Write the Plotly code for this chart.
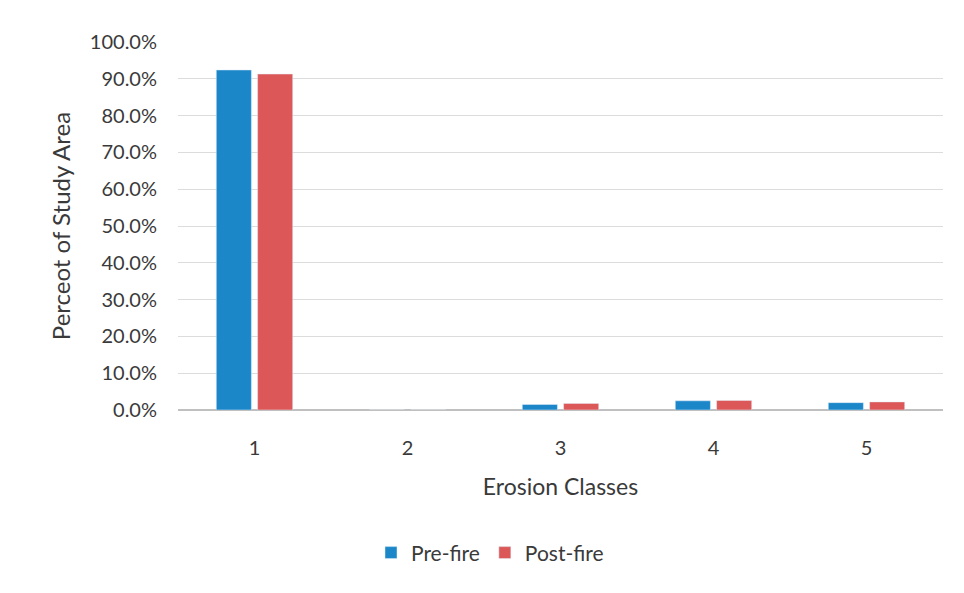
import plotly.graph_objects as go

categories = ["1", "2", "3", "4", "5"]
pre_fire = [0.924, 0.0, 0.015, 0.025, 0.020]
post_fire = [0.913, 0.0, 0.018, 0.026, 0.022]
y_ticks = [0, 0.1, 0.2, 0.3, 0.4, 0.5, 0.6, 0.7, 0.8, 0.9, 1.0]

FONT = "Lato"
TXT = "#3a3a3a"

fig = go.Figure()
fig.add_trace(go.Bar(name="Pre-fire", x=categories, y=pre_fire, marker_color="#1b87c9"))
fig.add_trace(go.Bar(name="Post-fire", x=categories, y=post_fire, marker_color="#dc5858"))

fig.update_layout(
    width=964, height=593,
    margin=dict(l=170, r=29, t=34, b=191),
    paper_bgcolor="white", plot_bgcolor="white",
    barmode="group", bargap=0.46, bargroupgap=0.15,
    font=dict(family=FONT, color=TXT, size=20),
    legend=dict(orientation="h", xref="container", yref="container",
                x=0.5, xanchor="center", y=0.081, yanchor="middle",
                itemwidth=30,
                font=dict(size=21, color=TXT)),
    xaxis=dict(type="category", showgrid=False, showline=False, ticks="",
               tickfont=dict(size=20, color=TXT), ticklabelstandoff=24,
               title=dict(text="Erosion Classes", font=dict(size=23, color=TXT), standoff=20)),
    yaxis=dict(range=[0, 1.0], tickvals=y_ticks, tickformat=".1%",
               showgrid=True, gridcolor="#dcdcdc", gridwidth=1,
               zeroline=True, zerolinecolor="#c0c0c0", zerolinewidth=1.5,
               showline=False, ticks="", ticklabelstandoff=20,
               tickfont=dict(size=20, color=TXT),
               title=dict(text="Perceot of Study Area", font=dict(size=24, color=TXT), standoff=12)),
)

fig.write_html("out.html")
